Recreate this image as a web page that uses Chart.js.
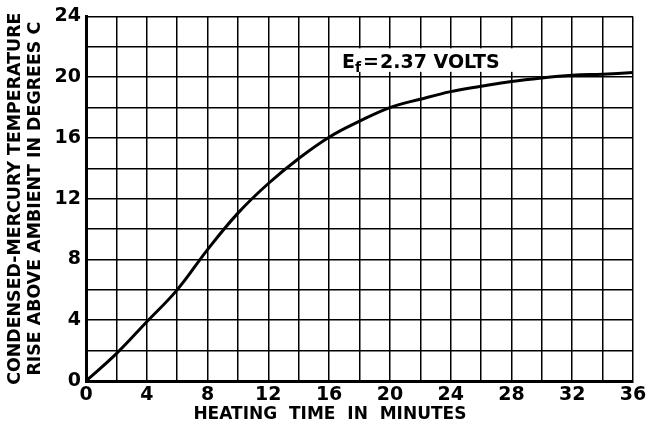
<!DOCTYPE html>
<html>
<head>
<meta charset="utf-8">
<title>Condensed-mercury temperature rise</title>
<script src="https://cdn.jsdelivr.net/npm/chart.js@4.4.1/dist/chart.umd.min.js"></script>
<style>
  html, body { margin: 0; padding: 0; background: #fff; }
</style>
</head>
<body>
<canvas id="chart" width="650" height="429"></canvas>
<script>
// heating time (minutes) and temperature rise (deg C)
const minutes = [0, 2, 4, 6, 8, 10, 12, 14, 16, 18, 20, 22, 24, 26, 28, 30, 32, 34, 36];
const tempRise = [0, 1.8, 3.9, 6.0, 8.65, 11.05, 13.0, 14.65, 16.05, 17.1, 18.0, 18.55, 19.05, 19.4, 19.72, 19.95, 20.12, 20.2, 20.3];

const xLabels = [0, 4, 8, 12, 16, 20, 24, 28, 32, 36];
const yLabels = [0, 4, 8, 12, 16, 20, 24];

const yTitle = ['CONDENSED-MERCURY TEMPERATURE', 'RISE ABOVE AMBIENT IN DEGREES C'];
const xTitle = 'HEATING  TIME  IN  MINUTES          ';

const FONT = '"DejaVu Sans", sans-serif';

// white label box with "Ef = 2.37 VOLTS"
const noteBox = {
  id: 'noteBox',
  beforeDatasetsDraw(chart) {
    const { ctx, scales: { x, y } } = chart;
    const left = x.getPixelForValue(16.1);
    const right = x.getPixelForValue(28.2);
    const top = y.getPixelForValue(21.9);
    const bottom = y.getPixelForValue(20.35);
    ctx.save();
    ctx.fillStyle = '#fff';
    ctx.fillRect(left, top, right - left, bottom - top);

    ctx.fillStyle = '#000';
    ctx.textBaseline = 'alphabetic';
    let tx = x.getPixelForValue(16.85);
    const base = y.getPixelForValue(20.6);
    ctx.font = 'bold 19px ' + FONT;
    ctx.fillText('E', tx, base);
    tx += ctx.measureText('E').width;
    ctx.font = 'bold 14px ' + FONT;
    ctx.fillText('f', tx, base + 4);
    tx += ctx.measureText('f').width + 2;
    ctx.font = 'bold 19px ' + FONT;
    ctx.fillText('=', tx, base);
    tx += ctx.measureText('=').width + 1;
    ctx.fillText('2.37 VOLTS', tx, base);
    ctx.restore();
  }
};

new Chart(document.getElementById('chart'), {
  type: 'line',
  data: {
    labels: minutes,
    datasets: [{
      data: minutes.map((m, i) => ({ x: m, y: tempRise[i] })),
      borderColor: '#000',
      borderWidth: 3,
      pointRadius: 0,
      tension: 0.4,
      fill: false
    }]
  },
  options: {
    responsive: false,
    animation: false,
    layout: { padding: { top: 15, right: 17, left: 0, bottom: 0 } },
    plugins: {
      legend: { display: false },
      tooltip: { enabled: false }
    },
    scales: {
      x: {
        type: 'linear',
        min: 0,
        max: 36,
        afterFit: (s) => { s.height = 48; },
        ticks: {
          stepSize: 2,
          autoSkip: false,
          maxRotation: 0,
          padding: 3,
          color: '#000',
          font: { family: FONT, size: 19, weight: 'bold' },
          callback: (v) => (xLabels.includes(v) ? String(v) : '')
        },
        grid: { color: '#000', lineWidth: 1.5, drawTicks: false },
        border: { color: '#000', width: 3 },
        title: {
          display: true,
          text: xTitle,
          color: '#000',
          padding: { top: 0, bottom: 4 },
          font: { family: FONT, size: 17, weight: 'bold' }
        }
      },
      y: {
        min: 0,
        max: 24,
        afterFit: (s) => { s.width = 86; },
        ticks: {
          stepSize: 2,
          autoSkip: false,
          padding: 5,
          color: '#000',
          font: { family: FONT, size: 19, weight: 'bold' },
          callback: (v) => (yLabels.includes(v) ? String(v) : '')
        },
        grid: { color: '#000', lineWidth: 1.5, drawTicks: false },
        border: { color: '#000', width: 3 },
        title: {
          display: true,
          text: yTitle,
          color: '#000',
          padding: { top: 5, bottom: 0 },
          font: { family: FONT, size: 17.4, weight: 'bold', lineHeight: 1.16 }
        }
      }
    }
  },
  plugins: [noteBox]
});
</script>
</body>
</html>
